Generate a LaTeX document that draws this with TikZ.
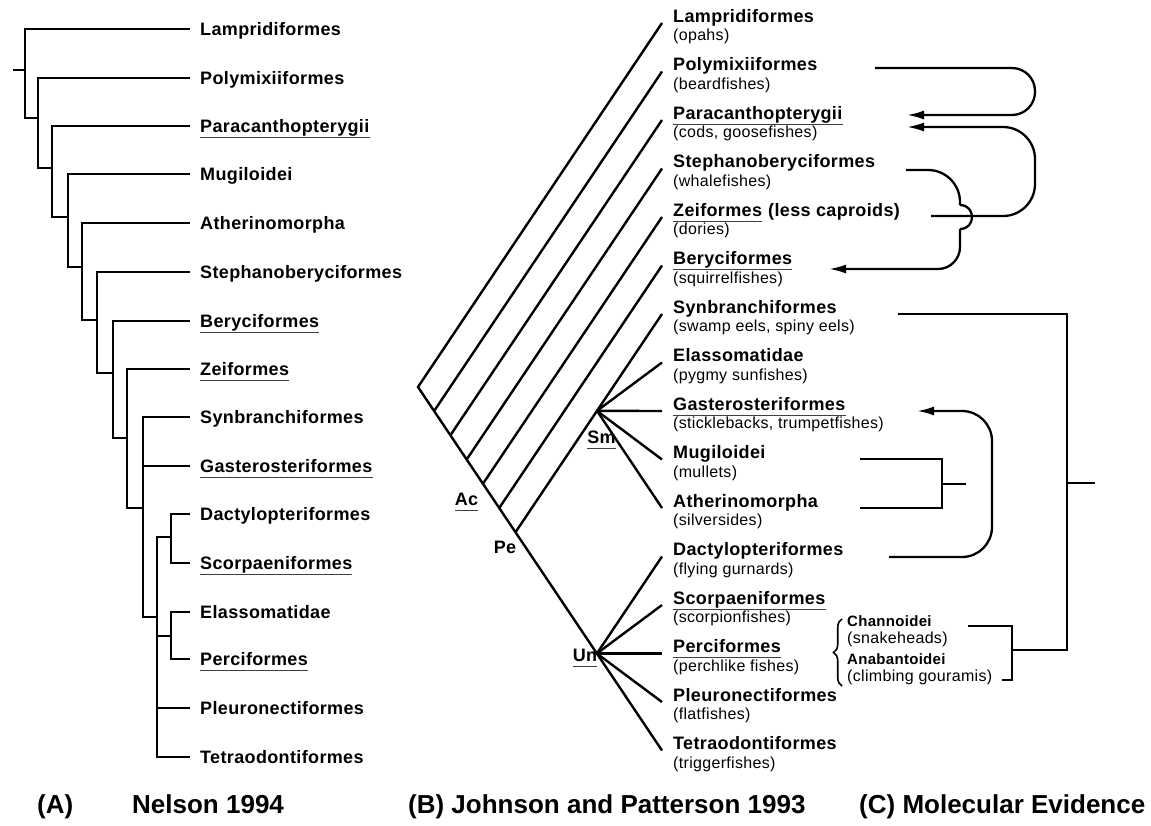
\documentclass[tikz,border=0pt]{standalone}
\usepackage{fontspec}
\setmainfont{Liberation Sans}
\newfontfamily\nmfont{Liberation Sans}[LetterSpace=2]
\newfontfamily\pfont{Liberation Sans}[LetterSpace=2]
\newfontfamily\ttlfont{Liberation Sans}
\usetikzlibrary{arrows.meta,decorations.pathreplacing}
\tikzset{
  nm/.style={font=\nmfont\bfseries\fontsize{18}{21}\selectfont, inner sep=0pt, text height=12.9pt, text depth=0pt, anchor=west},
  nms/.style={font=\nmfont\bfseries\fontsize{15}{17}\selectfont, inner sep=0pt, text height=10.7pt, text depth=0pt, anchor=west},
  pn/.style={font=\pfont\fontsize{16}{19}\selectfont, inner sep=0pt, text height=11.5pt, text depth=0pt, anchor=west},
  lab/.style={font=\nmfont\bfseries\fontsize{18}{21}\selectfont, inner sep=0pt, text height=12.9pt, text depth=0pt, anchor=center},
  ttl/.style={font=\ttlfont\bfseries\fontsize{26}{30}\selectfont, inner sep=0pt, text height=18.6pt, text depth=0pt, anchor=west},
  tA/.style={line width=2.1pt, line join=miter},
  tB/.style={line width=2.4pt, line join=miter},
  lnC/.style={line width=2.3pt},
  arrC/.style={lnC, -{Latex[length=17pt,width=9pt]}},
  ul/.style={line width=1.3pt, black!75},
}
\begin{document}
\begin{tikzpicture}[x=1pt,y=-1pt]
\useasboundingbox (0,0) rectangle (1151,825);
\fill[white] (0,0) rectangle (1151,825);

% ---------------- Panel A ----------------
\node[nm] (aLamp) at (200,29) {Lampridiformes};
\node[nm] (aPoly) at (200,78) {Polymixiiformes};
\node[nm] (aPara) at (200,126) {Paracanthopterygii};
\node[nm] (aMugi) at (200,174) {Mugiloidei};
\node[nm] (aAthe) at (200,223) {Atherinomorpha};
\node[nm] (aStep) at (200,272) {Stephanoberyciformes};
\node[nm] (aBery) at (200,321) {Beryciformes};
\node[nm] (aZeif) at (200,369) {Zeiformes};
\node[nm] (aSynb) at (200,417) {Synbranchiformes};
\node[nm] (aGast) at (200,466) {Gasterosteriformes};
\node[nm] (aDact) at (200,514) {Dactylopteriformes};
\node[nm] (aScor) at (200,563) {Scorpaeniformes};
\node[nm] (aElas) at (200,612) {Elassomatidae};
\node[nm] (aPerc) at (200,659) {Perciformes};
\node[nm] (aPleu) at (200,708) {Pleuronectiformes};
\node[nm] (aTetr) at (200,757) {Tetraodontiformes};

\foreach \n in {Lamp,Poly,Para,Mugi,Athe,Step,Bery,Zeif,Synb,Gast,Dact,Scor,Elas,Perc,Pleu,Tetr}
  \coordinate (k\n) at ([xshift=-10pt]a\n.west);

\draw[tA] (13,70) -- (25,70);
\draw[tA] (kLamp) -- (25,29) -- (25,118) -- (38,118);
\draw[tA] (kPoly) -- (38,78) -- (38,168) -- (52,168);
\draw[tA] (kPara) -- (52,126) -- (52,217) -- (68,217);
\draw[tA] (kMugi) -- (68,174) -- (68,267) -- (82,267);
\draw[tA] (kAthe) -- (82,223) -- (82,320) -- (97,320);
\draw[tA] (kStep) -- (97,272) -- (97,373) -- (113,373);
\draw[tA] (kBery) -- (113,321) -- (113,438) -- (127,438);
\draw[tA] (kZeif) -- (127,369) -- (127,508) -- (143,508);
\draw[tA] (kSynb) -- (143,417) -- (143,617) -- (157,617);
\draw[tA] (143,466) -- (kGast);
\draw[tA] (171,537) -- (157,537) -- (157,757) -- (kTetr);
\draw[tA] (157,708) -- (kPleu);
\draw[tA] (kDact) -- (171,514) -- (171,563) -- (kScor);
\draw[tA] (kElas) -- (171,612) -- (171,659) -- (kPerc);
\draw[tA] (157,636) -- (171,636);

\foreach \n in {aPara,aBery,aZeif,aGast,aScor,aPerc}
  \draw[ul] ([yshift=-4.5pt]\n.south west) -- ([yshift=-4.5pt]\n.south east);

% ---------------- Panel B ----------------
\node[nm] (bLamp) at (673,16) {Lampridiformes};
\node[pn] (bLampP) at (673,35) {(opahs)};
\node[nm] (bPoly) at (673,64.5) {Polymixiiformes};
\node[pn] (bPolyP) at (673,83.5) {(beardfishes)};
\node[nm] (bPara) at (673,113) {Paracanthopterygii};
\node[pn] (bParaP) at (673,132) {(cods, goosefishes)};
\node[nm] (bStep) at (673,161.5) {Stephanoberyciformes};
\node[pn] (bStepP) at (673,180.5) {(whalefishes)};
\node[nm] (bZeif) at (673,210) {Zeiformes};
\node[nm] (bZeifX) at (768,210) {(less caproids)};
\node[pn] (bZeifP) at (673,229) {(dories)};
\node[nm] (bBery) at (673,258.5) {Beryciformes};
\node[pn] (bBeryP) at (673,277.5) {(squirrelfishes)};
\node[nm] (bSynb) at (673,307) {Synbranchiformes};
\node[pn] (bSynbP) at (673,326) {(swamp eels, spiny eels)};
\node[nm] (bElas) at (673,355.5) {Elassomatidae};
\node[pn] (bElasP) at (673,374.5) {(pygmy sunfishes)};
\node[nm] (bGast) at (673,404) {Gasterosteriformes};
\node[pn] (bGastP) at (673,423) {(sticklebacks, trumpetfishes)};
\node[nm] (bMugi) at (673,452.5) {Mugiloidei};
\node[pn] (bMugiP) at (673,471.5) {(mullets)};
\node[nm] (bAthe) at (673,501) {Atherinomorpha};
\node[pn] (bAtheP) at (673,520) {(silversides)};
\node[nm] (bDact) at (673,549.5) {Dactylopteriformes};
\node[pn] (bDactP) at (673,568.5) {(flying gurnards)};
\node[nm] (bScor) at (673,598) {Scorpaeniformes};
\node[pn] (bScorP) at (673,617) {(scorpionfishes)};
\node[nm] (bPerc) at (673,646.5) {Perciformes};
\node[pn] (bPercP) at (673,665.5) {(perchlike fishes)};
\node[nm] (bPleu) at (673,695) {Pleuronectiformes};
\node[pn] (bPleuP) at (673,714) {(flatfishes)};
\node[nm] (bTetr) at (673,743.5) {Tetraodontiformes};
\node[pn] (bTetrP) at (673,762.5) {(triggerfishes)};

\foreach \n in {Lamp,Poly,Para,Step,Zeif,Bery,Synb,Elas,Gast,Mugi,Athe,Dact,Scor,Perc,Pleu,Tetr}
  \coordinate (l\n) at ([xshift=-11pt,yshift=-7pt]b\n.west);

\coordinate (R) at (418,387);
\coordinate (P1) at (434.11,411.00);
\coordinate (P2) at (450.38,435.24);
\coordinate (P3) at (466.66,459.49);
\coordinate (P4) at (482.94,483.75);
\coordinate (P5) at (499.22,508.00);
\coordinate (P6) at (515.49,532.24);
\coordinate (Sm) at (597,410.84);
\coordinate (Un) at (596.88,653.5);

\draw[tB] (lLamp) -- (R) -- (lTetr);
\draw[tB] (P1) -- (lPoly);
\draw[tB] (P2) -- (lPara);
\draw[tB] (P3) -- (lStep);
\draw[tB] (P4) -- (lZeif);
\draw[tB] (P5) -- (lBery);
\draw[tB] (P6) -- (lSynb);
\foreach \n in {Elas,Gast,Mugi,Athe} \draw[tB] (Sm) -- (l\n);
\foreach \n in {Dact,Scor,Perc,Pleu} \draw[tB] (Un) -- (l\n);

\node[lab] (labAc) at (466.5,499) {Ac};
\node[lab] (labPe) at (505,547.5) {Pe};
\node[lab] (labSm) at (601.5,437.5) {Sm};
\node[lab] (labUn) at (585,655) {Un};

\foreach \n in {bPara,bZeif,bBery,bGast,bScor,bPerc,labAc,labSm,labUn}
  \draw[ul] ([yshift=-4.5pt]\n.south west) -- ([yshift=-4.5pt]\n.south east);

% ---------------- Panel C ----------------
\node[nms] (cChan) at (847,621) {Channoidei};
\node[pn] (cChanP) at (847,637.5) {(snakeheads)};
\node[nms] (cAnab) at (847,659) {Anabantoidei};
\node[pn] (cAnabP) at (847,675.5) {(climbing gouramis)};

\coordinate (brB) at (842,686);
\coordinate (brT) at (842,619);
\draw[line width=1.6pt, decorate, decoration={brace, amplitude=8.5pt}] (brB) -- (brT);

\coordinate (a1s) at (875,68);   \coordinate (a1e) at (907,115);
\coordinate (a2s) at (931,216);  \coordinate (a2e) at (907,127);
\coordinate (a3s) at (906,170);  \coordinate (a3e) at (829,269);
\coordinate (a4s) at (889,557);  \coordinate (a4e) at (917,411);
\coordinate (mA) at (860,459);   \coordinate (mB) at (860,508);  \coordinate (mR) at (966,484);
\coordinate (sA) at (898,314);   \coordinate (sR) at (1095,483);
\coordinate (chA) at (968,626);  \coordinate (chB) at (1002,680);

\draw[arrC, rounded corners=23pt] (a1s) -- (1035,68) -- (1035,115) -- (a1e);
\draw[arrC, rounded corners=32pt] (a2s) -- (1035,216) -- (1035,127) -- (a2e);
\draw[lnC, rounded corners=32pt] (a3s) -- (960,170) -- (960,205);
\draw[lnC] (960,205) .. controls (976,205) and (976,229) .. (960,229);
\draw[arrC, rounded corners=22pt] (960,229) -- (960,269) -- (a3e);
\draw[arrC, rounded corners=30pt] (a4s) -- (992,557) -- (992,411) -- (a4e);

\draw[lnC] (mA) -- (942,459) -- (942,508) -- (mB);
\draw[lnC] (942,484) -- (mR);
\draw[lnC] (sA) -- (1067,314) -- (1067,650) -- (1012,650);
\draw[lnC] (1067,483) -- (sR);
\draw[lnC] (chA) -- (1012,626) -- (1012,680) -- (chB);

% ---------------- Titles ----------------
\node[ttl] (tA) at (37,804) {(A)};
\node[ttl] (tAn) at (132,804) {Nelson 1994};
\node[ttl] (tB) at (408,804) {(B) Johnson and Patterson 1993};
\node[ttl] (tC) at (859,804) {(C) Molecular Evidence};
\end{tikzpicture}
\end{document}
